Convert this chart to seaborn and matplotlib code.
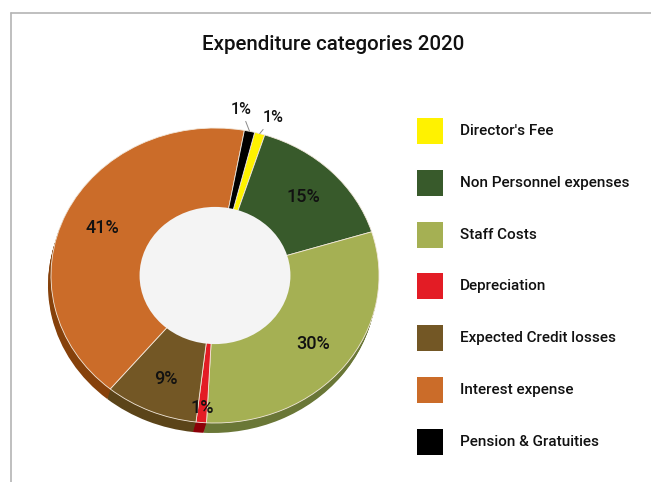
import numpy as np
import matplotlib
matplotlib.use("Agg")
import matplotlib.pyplot as plt
from matplotlib.patches import Ellipse, Rectangle
from matplotlib.lines import Line2D
import seaborn as sns

# Expenditure categories 2020 (percent of total)
categories = ["Director's Fee", "Non Personnel expenses", "Staff Costs",
              "Depreciation", "Expected Credit losses", "Interest expense",
              "Pension & Gratuities"]
shares = [1, 15, 30, 1, 9, 41, 1]
labels = [f"{v}%" for v in shares]

top_colors = ["#fff200", "#385a2b", "#a5b053", "#e31c25", "#735725", "#cb6c29", "#000000"]
side_colors = ["#b3a900", "#243d1a", "#6a7737", "#8c0008", "#5b4419", "#86410b", "#000000"]

sns.set_theme(style="white")
plt.rcParams["font.family"] = ["Roboto", "DejaVu Sans"]
TXT = dict(color="#111111", fontweight="medium")

W, H = 651, 482
fig = plt.figure(figsize=(W / 100, H / 100), dpi=100)
fig.patch.set_facecolor("white")

# thin frame along the top and left edges
fig.add_artist(Line2D([10.5 / W, 10.5 / W], [0, 1 - 12.5 / H], color="#b4b4b4", lw=1.2,
                      transform=fig.transFigure))
fig.add_artist(Line2D([10.5 / W, 1], [1 - 12.5 / H, 1 - 12.5 / H], color="#b4b4b4", lw=1.2,
                      transform=fig.transFigure))

fig.text(333 / W, 1 - 45 / H, "Expenditure categories 2020", ha="center", va="center",
         fontsize=14.8, **TXT)

# pie geometry (pixel box of the top face)
px_left, px_top, px_w, px_h = 51, 128, 328, 295
depth, shift = 10, 3
start = 76


def pie_axes(dx, dy):
    a = fig.add_axes([(px_left + dx) / W, 1 - (px_top + px_h + dy) / H, px_w / W, px_h / H])
    a.axis("off")
    return a


def squash(a):
    a.set_aspect("auto")
    a.set_xlim(-1, 1)
    a.set_ylim(-1, 1)


# extruded side wall: stacked darker copies
for k in range(depth, 0, -1):
    a = pie_axes(-shift * k / depth, k)
    a.pie(shares, colors=side_colors, startangle=start, counterclock=False, radius=1,
          wedgeprops=dict(linewidth=0))
    squash(a)

ax = pie_axes(0, 0)
wedges, _ = ax.pie(shares, colors=top_colors, startangle=start, counterclock=False, radius=1,
                   wedgeprops=dict(linewidth=0.6, edgecolor="#f3e9dc"))
squash(ax)
ax.add_patch(Ellipse((0, 0), 0.92, 0.93, facecolor="#f4f4f4", edgecolor="none", zorder=5))

# percentage labels from wedge mid-angles
outer_offsets = {0: (13, 16), 6: (-8.5, 22)}
for i, (w, lab) in enumerate(zip(wedges, labels)):
    mid = np.deg2rad((w.theta1 + w.theta2) / 2)
    cx, cy = np.cos(mid), np.sin(mid)
    if i in outer_offsets:
        ox, oy = outer_offsets[i]
        ax.annotate(lab, xy=(cx, cy), xytext=(ox * 0.72, oy * 0.72), textcoords="offset points",
                    ha="center", va="center", fontsize=11.5, zorder=7,
                    arrowprops=dict(arrowstyle="-", color="#8a8a8a", lw=0.7,
                                    shrinkA=1, shrinkB=0), **TXT)
    else:
        r = 0.9 if shares[i] < 5 else 0.76
        ax.text(r * cx, r * cy, lab, ha="center", va="center", fontsize=13, zorder=7, **TXT)

# legend
leg = fig.add_axes([0, 0, 1, 1])
leg.set_xlim(0, W)
leg.set_ylim(H, 0)
leg.axis("off")
leg.patch.set_alpha(0)
y0, step, sw = 131, 51.8, 26
for i, (name, col) in enumerate(zip(categories, top_colors)):
    yc = y0 + i * step
    leg.add_patch(Rectangle((417, yc - sw / 2), sw, sw, facecolor=col, edgecolor="none"))
    leg.text(460, yc, name, ha="left", va="center", fontsize=11, **TXT)

fig.savefig("out.png", dpi=100, facecolor="white")
